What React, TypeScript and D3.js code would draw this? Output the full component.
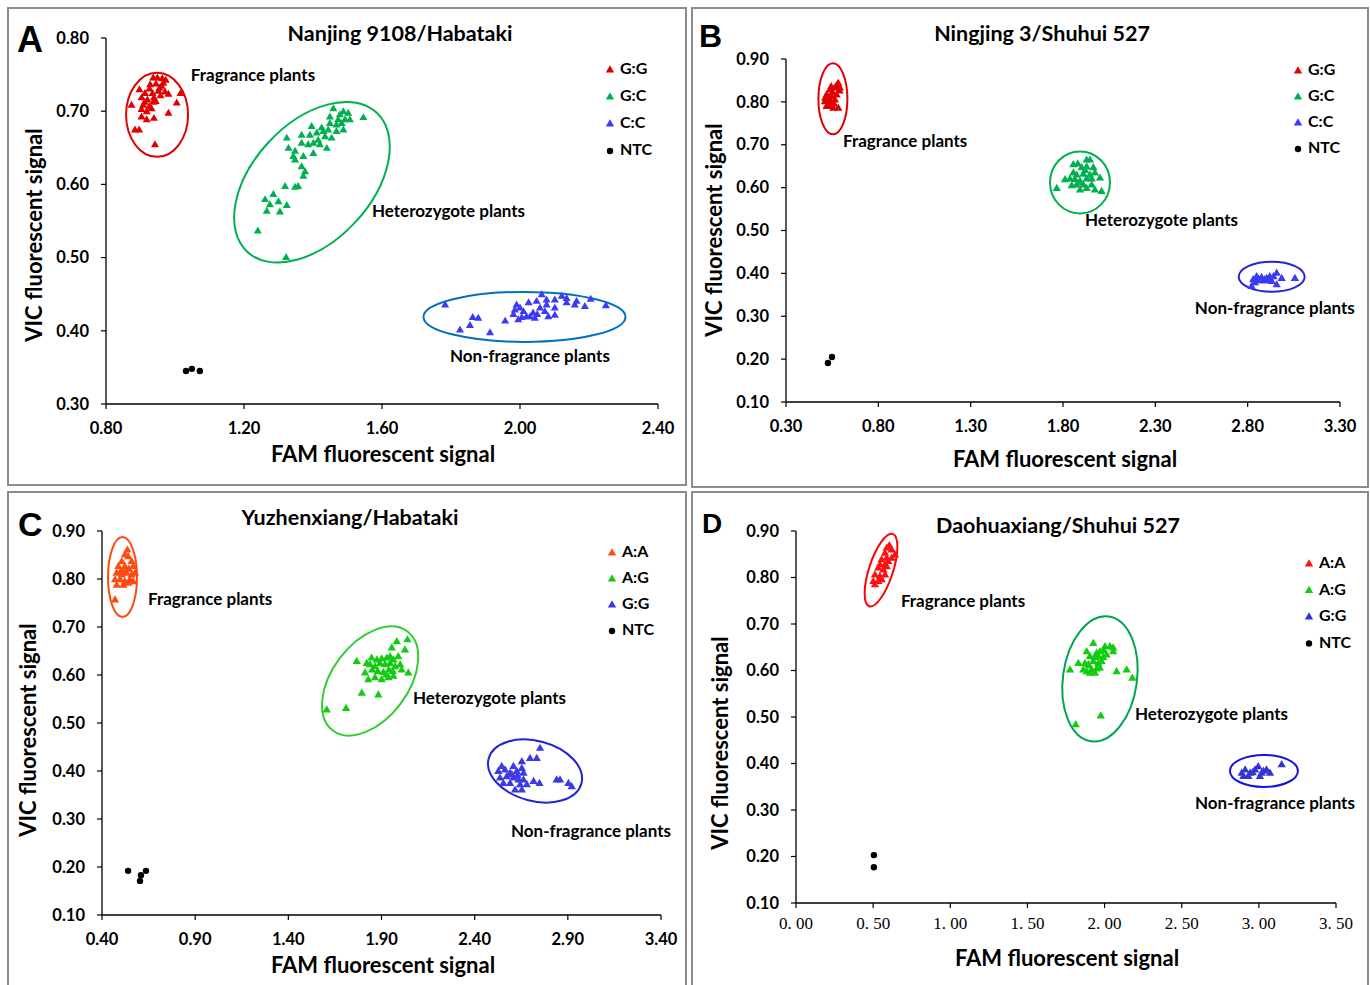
import * as React from "react";
import * as d3 from "d3";

type Pt = [number, number];

// ---- A: Nanjing 9108/Habataki (FAM, VIC)
const A_GG: Pt[] = [
  [0.937, 0.745], [0.949, 0.745], [0.963, 0.744], [0.973, 0.742], [0.928, 0.736], [0.945, 0.737],
  [0.961, 0.734], [0.897, 0.729], [0.913, 0.724], [0.935, 0.724], [0.952, 0.727], [0.971, 0.726],
  [0.981, 0.723], [1.016, 0.724], [0.903, 0.718], [0.920, 0.715], [0.939, 0.718], [0.958, 0.721],
  [0.874, 0.708], [0.908, 0.708], [0.925, 0.706], [0.937, 0.712], [1.005, 0.711], [0.903, 0.702],
  [0.918, 0.699], [0.932, 0.703], [0.903, 0.692], [0.918, 0.688], [0.939, 0.690], [0.981, 0.697],
  [0.884, 0.674], [0.896, 0.674], [0.942, 0.654], [0.926, 0.730], [0.944, 0.713], [0.912, 0.712],
  [0.955, 0.731], [0.966, 0.738],
];
const A_GC: Pt[] = [
  [1.459, 0.703], [1.488, 0.699], [1.502, 0.697], [1.546, 0.691], [1.449, 0.692], [1.473, 0.688],
  [1.493, 0.688], [1.507, 0.688], [1.449, 0.683], [1.468, 0.681], [1.483, 0.683], [1.396, 0.679],
  [1.425, 0.677], [1.444, 0.674], [1.468, 0.672], [1.488, 0.674], [1.367, 0.667], [1.391, 0.667],
  [1.411, 0.670], [1.435, 0.665], [1.454, 0.663], [1.324, 0.663], [1.367, 0.656], [1.386, 0.654],
  [1.401, 0.656], [1.420, 0.654], [1.440, 0.649], [1.329, 0.649], [1.348, 0.645], [1.401, 0.642],
  [1.343, 0.638], [1.372, 0.638], [1.348, 0.633], [1.367, 0.624], [1.377, 0.617], [1.372, 0.611],
  [1.319, 0.597], [1.348, 0.596], [1.357, 0.597], [1.285, 0.586], [1.261, 0.579], [1.300, 0.576],
  [1.275, 0.572], [1.324, 0.571], [1.266, 0.563], [1.304, 0.562], [1.240, 0.536], [1.322, 0.500],
  [1.415, 0.660], [1.430, 0.672], [1.478, 0.695],
];
const A_CC: Pt[] = [
  [1.783, 0.435], [1.826, 0.401], [1.855, 0.407], [1.863, 0.418], [1.879, 0.417], [1.913, 0.397],
  [1.957, 0.413], [1.981, 0.422], [1.995, 0.415], [1.990, 0.435], [2.000, 0.431], [2.010, 0.426],
  [2.019, 0.419], [2.038, 0.424], [2.043, 0.417], [2.048, 0.440], [2.063, 0.449], [2.058, 0.431],
  [2.072, 0.426], [2.077, 0.435], [2.082, 0.419], [2.077, 0.442], [2.101, 0.442], [2.101, 0.431],
  [2.101, 0.421], [2.121, 0.447], [2.135, 0.444], [2.135, 0.438], [2.159, 0.435], [2.164, 0.440],
  [2.188, 0.433], [2.205, 0.443], [2.249, 0.434], [2.029, 0.419], [1.985, 0.428], [2.025, 0.438],
  [2.050, 0.422], [2.005, 0.418],
];
const A_NTC: Pt[] = [[1.032, 0.345], [1.049, 0.348], [1.072, 0.345]];

// ---- B: Ningjing 3/Shuhui 527
const B_GG: Pt[] = [
  [0.583, 0.843], [0.565, 0.832], [0.538, 0.828], [0.520, 0.816], [0.547, 0.812], [0.574, 0.816],
  [0.511, 0.800], [0.538, 0.800], [0.565, 0.804], [0.520, 0.789], [0.556, 0.785], [0.583, 0.785],
  [0.592, 0.832], [0.530, 0.810], [0.575, 0.838], [0.552, 0.822], [0.530, 0.795], [0.548, 0.790],
  [0.560, 0.795], [0.512, 0.808], [0.590, 0.825], [0.545, 0.835],
];
const B_GC: Pt[] = [
  [1.928, 0.664], [1.946, 0.664], [1.856, 0.653], [1.880, 0.655], [1.901, 0.646], [1.928, 0.648],
  [1.964, 0.646], [1.856, 0.634], [1.874, 0.629], [1.910, 0.631], [1.946, 0.629], [1.973, 0.634],
  [1.811, 0.618], [1.838, 0.620], [1.865, 0.618], [1.892, 0.615], [1.928, 0.620], [1.955, 0.620],
  [2.000, 0.622], [1.766, 0.598], [1.847, 0.604], [1.874, 0.606], [1.910, 0.606], [1.928, 0.598],
  [1.955, 0.606], [1.892, 0.594], [1.973, 0.594], [2.009, 0.591], [1.920, 0.640], [1.890, 0.612],
];
const B_CC: Pt[] = [
  [2.821, 0.369], [2.830, 0.385], [2.848, 0.392], [2.875, 0.390], [2.903, 0.388], [2.920, 0.392],
  [2.957, 0.400], [2.930, 0.381], [2.957, 0.373], [2.984, 0.388], [3.056, 0.388], [2.866, 0.383],
  [2.884, 0.382], [2.857, 0.387], [2.893, 0.385], [2.911, 0.383], [2.840, 0.378], [2.940, 0.392],
];
const B_NTC: Pt[] = [[0.527, 0.191], [0.549, 0.205]];

// ---- C: Yuzhenxiang/Habataki
const C_AA: Pt[] = [
  [0.536, 0.860], [0.523, 0.850], [0.541, 0.846], [0.506, 0.836], [0.559, 0.836], [0.488, 0.826],
  [0.523, 0.826], [0.568, 0.826], [0.479, 0.812], [0.506, 0.808], [0.532, 0.812], [0.559, 0.808],
  [0.577, 0.812], [0.470, 0.798], [0.497, 0.798], [0.523, 0.794], [0.550, 0.798], [0.568, 0.794],
  [0.479, 0.787], [0.515, 0.787], [0.541, 0.791], [0.470, 0.756], [0.515, 0.818], [0.545, 0.820],
  [0.500, 0.815],
];
const C_AG: Pt[] = [
  [1.982, 0.669], [2.039, 0.673], [1.955, 0.656], [2.026, 0.652], [1.767, 0.628], [1.847, 0.635],
  [1.821, 0.624], [1.875, 0.631], [1.901, 0.633], [1.928, 0.635], [1.946, 0.638], [1.964, 0.631],
  [1.990, 0.638], [1.838, 0.621], [1.865, 0.617], [1.892, 0.624], [1.919, 0.621], [1.946, 0.624],
  [1.973, 0.617], [2.000, 0.621], [1.812, 0.604], [2.008, 0.610], [2.044, 0.604], [1.829, 0.590],
  [1.865, 0.594], [1.901, 0.590], [1.937, 0.594], [1.964, 0.597], [1.794, 0.562], [1.883, 0.558],
  [1.606, 0.527], [1.710, 0.530], [1.910, 0.605], [1.880, 0.607], [1.940, 0.610], [1.960, 0.607],
  [1.850, 0.610], [1.925, 0.600],
];
const C_GG: Pt[] = [
  [2.751, 0.447], [2.697, 0.426], [2.733, 0.426], [2.653, 0.419], [2.545, 0.409], [2.608, 0.409],
  [2.527, 0.399], [2.563, 0.402], [2.590, 0.395], [2.626, 0.399], [2.653, 0.405], [2.662, 0.395],
  [2.536, 0.385], [2.572, 0.388], [2.608, 0.385], [2.635, 0.381], [2.662, 0.381], [2.554, 0.374],
  [2.590, 0.374], [2.644, 0.371], [2.680, 0.371], [2.716, 0.378], [2.748, 0.374], [2.617, 0.360],
  [2.653, 0.360], [2.840, 0.381], [2.858, 0.381], [2.903, 0.374], [2.921, 0.367], [2.600, 0.392],
  [2.630, 0.390],
];
const C_NTC: Pt[] = [[0.540, 0.192], [0.604, 0.171], [0.609, 0.183], [0.636, 0.192]];

// ---- D: Daohuaxiang/Shuhui 527
const D_AA: Pt[] = [
  [0.605, 0.868], [0.588, 0.863], [0.620, 0.859], [0.642, 0.848], [0.577, 0.852], [0.555, 0.838],
  [0.588, 0.841], [0.620, 0.841], [0.544, 0.827], [0.577, 0.827], [0.598, 0.834], [0.533, 0.820],
  [0.566, 0.816], [0.588, 0.823], [0.512, 0.805], [0.544, 0.802], [0.577, 0.805], [0.501, 0.791],
  [0.533, 0.791], [0.555, 0.795], [0.512, 0.784],
];
const D_AG: Pt[] = [
  [1.927, 0.658], [2.003, 0.651], [2.035, 0.651], [2.056, 0.648], [1.884, 0.640], [1.948, 0.637],
  [1.970, 0.640], [2.056, 0.640], [1.905, 0.630], [1.938, 0.628], [1.959, 0.630], [1.991, 0.628],
  [2.013, 0.633], [1.830, 0.615], [1.873, 0.615], [1.895, 0.612], [1.927, 0.619], [1.959, 0.615],
  [1.981, 0.619], [1.776, 0.601], [1.862, 0.601], [1.884, 0.597], [1.916, 0.601], [1.948, 0.603],
  [1.970, 0.605], [2.078, 0.597], [2.143, 0.601], [2.180, 0.583], [1.905, 0.594], [1.938, 0.594],
  [1.975, 0.502], [1.813, 0.483], [1.900, 0.610], [1.995, 0.642],
];
const D_GG: Pt[] = [
  [2.889, 0.379], [2.911, 0.386], [2.943, 0.379], [2.932, 0.372], [2.900, 0.372], [2.975, 0.386],
  [2.996, 0.393], [3.018, 0.379], [3.050, 0.386], [3.072, 0.379], [3.007, 0.372], [3.148, 0.397],
  [2.960, 0.380], [3.030, 0.383],
];
const D_NTC: Pt[] = [[0.505, 0.203], [0.505, 0.177]];

// ticks / labels
const A_X_TICKS = [0.8, 1.2, 1.6, 2.0, 2.4];
const A_Y_TICKS = [0.3, 0.4, 0.5, 0.6, 0.7, 0.8];
const B_X_TICKS = [0.3, 0.8, 1.3, 1.8, 2.3, 2.8, 3.3];
const C_X_TICKS = [0.4, 0.9, 1.4, 1.9, 2.4, 2.9, 3.4];
const D_X_TICKS = [0, 0.5, 1.0, 1.5, 2.0, 2.5, 3.0, 3.5];
const D_X_LABELS = ["0. 00", "0. 50", "1. 00", "1. 50", "2. 00", "2. 50", "3. 00", "3. 50"];
const Y_TICKS = [0.1, 0.2, 0.3, 0.4, 0.5, 0.6, 0.7, 0.8, 0.9];

const TITLES = ["Nanjing 9108/Habataki", "Ningjing 3/Shuhui 527", "Yuzhenxiang/Habataki", "Daohuaxiang/Shuhui 527"];
const GENO_GC = ["G:G", "G:C", "C:C", "NTC"];
const GENO_AG = ["A:A", "A:G", "G:G", "NTC"];
const GROUPS = ["Fragrance plants", "Heterozygote plants", "Non-fragrance plants"];

const FONT = "Lato, 'Open Sans', sans-serif";

const panels = [
  {
    letter: "A", letterPos: [17, 52, 36], title: TITLES[0], titlePos: [400, 35],
    frame: [8, 8, 678, 477], plot: { l: 106, r: 658, t: 38, b: 404 },
    xDom: [0.8, 2.4], yDom: [0.3, 0.8], xTicks: A_X_TICKS, yTicks: A_Y_TICKS, xLabels: null,
    series: [A_GG, A_GC, A_CC], ntc: A_NTC, names: GENO_GC,
    colors: ["#e00000", "#00b050", "#3b3bf5"], rings: ["#e00000", "#00b050", "#0070c0"],
    ellipses: [
      { cx: 0.948, cy: 0.695, rx: 31, ry: 42, rot: 0 },
      { cx: 1.397, cy: 0.603, rx: 95, ry: 59, rot: -47 },
      { cx: 2.013, cy: 0.419, rx: 101, ry: 25, rot: 0 },
    ],
    labels: [[1.046, 0.747], [1.571, 0.561], [1.797, 0.364]],
    legend: [610, 70, 27], xTitle: [383, 456], yTitle: [36, 235], size: 28,
  },
  {
    letter: "B", letterPos: [699, 47, 32], title: TITLES[1], titlePos: [1042, 35],
    frame: [692, 8, 676, 479], plot: { l: 786, r: 1340, t: 59, b: 402 },
    xDom: [0.3, 3.3], yDom: [0.1, 0.9], xTicks: B_X_TICKS, yTicks: Y_TICKS, xLabels: null,
    series: [B_GG, B_GC, B_CC], ntc: B_NTC, names: GENO_GC,
    colors: ["#e00000", "#00b050", "#3b3bf5"], rings: ["#e00000", "#00b050", "#2424dd"],
    ellipses: [
      { cx: 0.554, cy: 0.807, rx: 14.5, ry: 35.5, rot: 0 },
      { cx: 1.892, cy: 0.612, rx: 30, ry: 31, rot: 0 },
      { cx: 2.93, cy: 0.392, rx: 33, ry: 15, rot: 0 },
    ],
    labels: [[0.609, 0.706], [1.919, 0.520], [2.514, 0.315]],
    legend: [1298, 71, 26], xTitle: [1065, 461], yTitle: [716, 230], size: 30,
  },
  {
    letter: "C", letterPos: [18, 536, 34], title: TITLES[2], titlePos: [350, 519],
    frame: [8, 492, 678, 500], plot: { l: 102, r: 661, t: 531, b: 915 },
    xDom: [0.4, 3.4], yDom: [0.1, 0.9], xTicks: C_X_TICKS, yTicks: Y_TICKS, xLabels: null,
    series: [C_AA, C_AG, C_GG], ntc: C_NTC, names: GENO_AG,
    colors: ["#ff4a10", "#11cc11", "#3b3be6"], rings: ["#ff4a10", "#33cc33", "#2020dd"],
    ellipses: [
      { cx: 0.510, cy: 0.804, rx: 14.5, ry: 40, rot: 0 },
      { cx: 1.839, cy: 0.5875, rx: 62, ry: 38, rot: -53 },
      { cx: 2.724, cy: 0.40, rx: 48, ry: 30, rot: 15 },
    ],
    labels: [[0.647, 0.754], [2.069, 0.548], [2.595, 0.271]],
    legend: [612, 553, 26], xTitle: [383, 967], yTitle: [30, 730], size: 30,
  },
  {
    letter: "D", letterPos: [702, 533, 28], title: TITLES[3], titlePos: [1058, 527],
    frame: [692, 492, 676, 500], plot: { l: 796, r: 1336, t: 531, b: 903 },
    xDom: [0, 3.5], yDom: [0.1, 0.9], xTicks: D_X_TICKS, yTicks: Y_TICKS, xLabels: D_X_LABELS,
    series: [D_AA, D_AG, D_GG], ntc: D_NTC, names: GENO_AG,
    colors: ["#ff1010", "#11cc11", "#3434d4"], rings: ["#ff0000", "#00a550", "#1414dd"],
    ellipses: [
      { cx: 0.551, cy: 0.816, rx: 12, ry: 38, rot: 18 },
      { cx: 1.970, cy: 0.582, rx: 37, ry: 63, rot: 8 },
      { cx: 3.033, cy: 0.384, rx: 34, ry: 16, rot: 0 },
    ],
    labels: [[0.680, 0.747], [2.197, 0.502], [2.586, 0.311]],
    legend: [1309, 564, 26.5], xTitle: [1067, 960], yTitle: [722, 743], size: 30,
  },
];

const tri = (size: number) => d3.symbol(d3.symbolTriangle, size)() as string;

const Panel = ({ p }: { p: any }) => {
  const x = d3.scaleLinear().domain(p.xDom).range([p.plot.l, p.plot.r]);
  const y = d3.scaleLinear().domain(p.yDom).range([p.plot.b, p.plot.t]);
  const triPath = tri(p.size);
  const legTri = tri(30);
  const [lx, ly, ldy] = p.legend;
  return (
    <g fontFamily={FONT} fontWeight="bold" fill="#000">
      <rect x={p.frame[0]} y={p.frame[1]} width={p.frame[2]} height={p.frame[3]}
        fill="#fff" stroke="#8c8c8c" strokeWidth={2} />
      <text x={p.letterPos[0]} y={p.letterPos[1]} fontSize={p.letterPos[2]}
        fontFamily="'Liberation Sans', Arial, sans-serif" fontWeight="bold">{p.letter}</text>
      <text x={p.titlePos[0]} y={p.titlePos[1]} fontSize={21.5} textAnchor="middle"
        dominantBaseline="middle">{p.title}</text>

      {/* axes */}
      <line x1={p.plot.l} x2={p.plot.l} y1={p.plot.t} y2={p.plot.b} stroke="#000" strokeWidth={1.3} />
      <line x1={p.plot.l} x2={p.plot.r} y1={p.plot.b} y2={p.plot.b} stroke="#000" strokeWidth={1.3} />
      {p.yTicks.map((t: number) => (
        <g key={"y" + t}>
          <line x1={p.plot.l - 5} x2={p.plot.l} y1={y(t)} y2={y(t)} stroke="#000" strokeWidth={1.2} />
          <text x={p.plot.l - 17} y={y(t) + 1.5} fontSize={16.5} textAnchor="end" dominantBaseline="middle">
            {t.toFixed(2)}
          </text>
        </g>
      ))}
      {p.xTicks.map((t: number, i: number) => (
        <g key={"x" + t}>
          <line x1={x(t)} x2={x(t)} y1={p.plot.b} y2={p.plot.b + 5} stroke="#000" strokeWidth={1.2} />
          {p.xLabels ? (
            <text x={x(t)} y={p.plot.b + 22} fontSize={17} textAnchor="middle" dominantBaseline="middle"
              fontFamily="'Liberation Serif', 'DejaVu Serif', serif" fontWeight="normal">
              {p.xLabels[i]}
            </text>
          ) : (
            <text x={x(t)} y={p.plot.b + 26} fontSize={16.5} textAnchor="middle" dominantBaseline="middle">
              {t.toFixed(2)}
            </text>
          )}
        </g>
      ))}
      <text x={p.xTitle[0]} y={p.xTitle[1]} fontSize={22} textAnchor="middle" dominantBaseline="middle">
        FAM fluorescent signal
      </text>
      <text transform={`translate(${p.yTitle[0]},${p.yTitle[1]}) rotate(-90)`} fontSize={22}
        textAnchor="middle" dominantBaseline="middle">
        VIC fluorescent signal
      </text>

      {/* cluster rings */}
      {p.ellipses.map((e: any, i: number) => (
        <ellipse key={"e" + i} cx={0} cy={0} rx={e.rx} ry={e.ry} fill="none" stroke={p.rings[i]}
          strokeWidth={2} transform={`translate(${x(e.cx)},${y(e.cy)}) rotate(${e.rot})`} />
      ))}

      {/* points */}
      {p.series.map((s: Pt[], i: number) => (
        <g key={"s" + i} fill={p.colors[i]}>
          {s.map((d, j) => (
            <path key={j} d={triPath} transform={`translate(${x(d[0])},${y(d[1])})`} />
          ))}
        </g>
      ))}
      {p.ntc.map((d: Pt, j: number) => (
        <circle key={"n" + j} cx={x(d[0])} cy={y(d[1])} r={3.2} fill="#000" />
      ))}

      {/* group labels */}
      {p.labels.map((l: number[], i: number) => (
        <text key={"l" + i} x={x(l[0])} y={y(l[1])} fontSize={17} dominantBaseline="middle">
          {GROUPS[i]}
        </text>
      ))}

      {/* legend */}
      {p.names.map((n: string, i: number) => (
        <g key={"lg" + i} transform={`translate(${lx},${ly + i * ldy})`}>
          {i < 3 ? (
            <path d={legTri} fill={p.colors[i]} />
          ) : (
            <circle r={3.2} fill="#000" />
          )}
          <text x={10} y={0} fontSize={16} dominantBaseline="middle">{n}</text>
        </g>
      ))}
    </g>
  );
};

export default function App() {
  return (
    <svg width={1370} height={985} style={{ position: "absolute", left: 0, top: 0, background: "#fff" }}>
      <rect width={1370} height={985} fill="#fff" />
      {panels.map((p) => (
        <Panel key={p.letter} p={p} />
      ))}
    </svg>
  );
}
